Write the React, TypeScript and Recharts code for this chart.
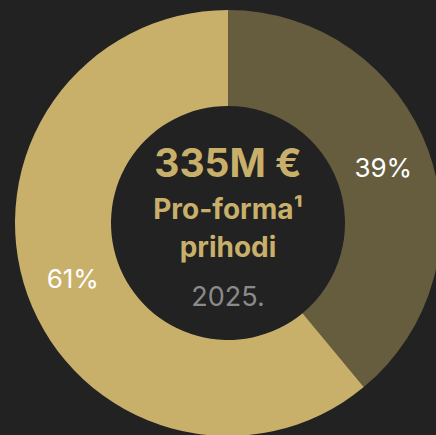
import React from 'react';
import { PieChart, Pie, Cell, Label } from 'recharts';

const segments = ['Segment A', 'Segment B'];
const shares = [39, 61];
const colors = ['#665D3F', '#C8B06B'];

const headline = '335M €';
const subtitle = ['Pro-forma¹', 'prihodi'];
const yearLabel = '2025.';

const data = segments.map((name, i) => ({ name, value: shares[i] }));

const CX = 228;
const CY = 223;
const RADIAN = Math.PI / 180;

const renderSliceLabel = (props: any) => {
  const { cx, cy, midAngle, innerRadius, outerRadius, value } = props;
  const r = (innerRadius + outerRadius) / 2;
  const x = cx + r * Math.cos(-midAngle * RADIAN);
  const y = cy + r * Math.sin(-midAngle * RADIAN);
  return (
    <text
      x={x}
      y={y}
      fill="#ffffff"
      textAnchor="middle"
      dominantBaseline="central"
      fontSize={26}
      fontFamily="Inter, sans-serif"
    >
      {`${value}%`}
    </text>
  );
};

// center block, drawn around the pie centre
const CenterText = () => (
  <g fontFamily="Inter, sans-serif" textAnchor="middle">
    <text x={CX} y={CY - 46} fill="#C8B06B" fontSize={39} fontWeight={700}>
      {headline}
    </text>
    <text x={CX} y={CY - 4} fill="#C8B06B" fontSize={28} fontWeight={700}>
      {subtitle[0]}
    </text>
    <text x={CX} y={CY + 34} fill="#C8B06B" fontSize={28} fontWeight={700}>
      {subtitle[1]}
    </text>
    <text x={CX} y={CY + 83} fill="#8A8A8A" fontSize={27}>
      {yearLabel}
    </text>
  </g>
);

const App: React.FC = () => {
  return (
    <div style={{ position: 'fixed', left: 0, top: 0, width: 436, height: 435, background: '#222222' }}>
      <PieChart width={436} height={435} margin={{ top: 0, right: 0, bottom: 0, left: 0 }}>
        <Pie
          data={data}
          dataKey="value"
          nameKey="name"
          cx={CX}
          cy={CY}
          innerRadius={117}
          outerRadius={213}
          startAngle={90}
          endAngle={-270}
          stroke="none"
          label={renderSliceLabel}
          labelLine={false}
          isAnimationActive={false}
        >
          {data.map((d, i) => (
            <Cell key={d.name} fill={colors[i]} />
          ))}
          <Label position="center" content={CenterText} />
        </Pie>
      </PieChart>
    </div>
  );
};

export default App;
